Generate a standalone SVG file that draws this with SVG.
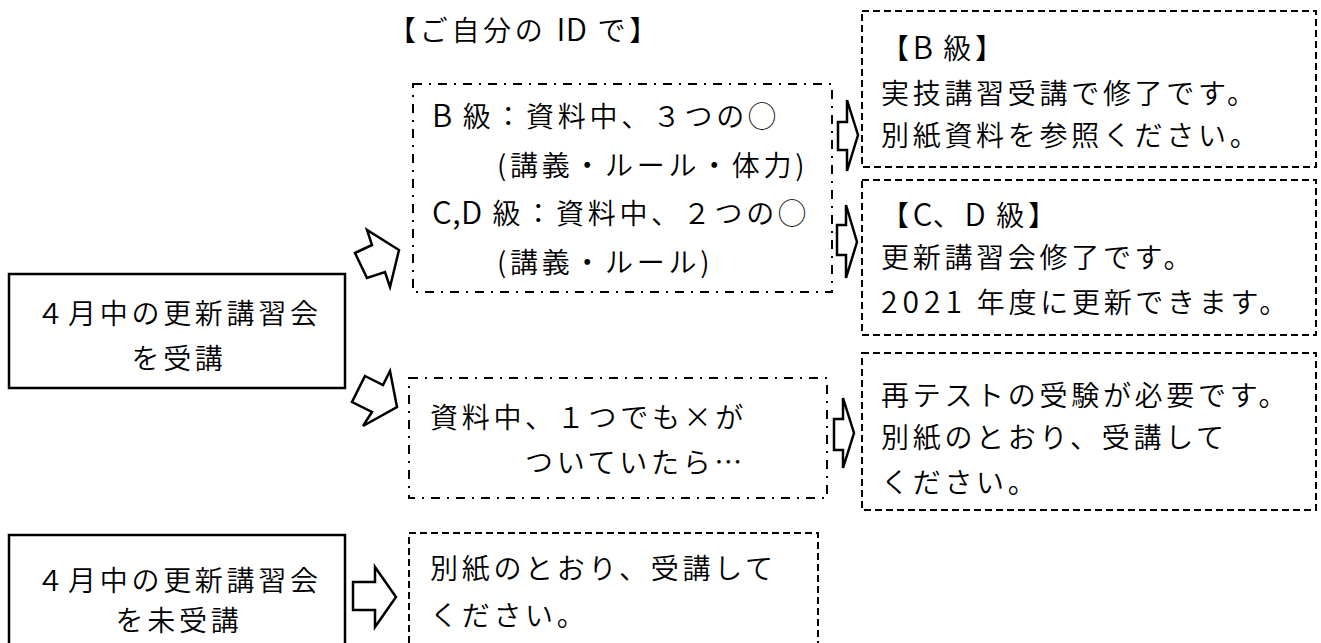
<svg xmlns="http://www.w3.org/2000/svg" width="1321" height="643" viewBox="0 0 1321 643">
<style>
text{font-family:"Noto Sans CJK JP","Liberation Sans",sans-serif;font-size:28px;font-weight:350;letter-spacing:3.7px;fill:#000}
.lat{font-size:31px;letter-spacing:0.5px}
.num{font-size:30px;letter-spacing:5px}
.solid{fill:#fff;stroke:#000;stroke-width:2.5}
.dash{fill:#fff;stroke:#000;stroke-width:2;stroke-dasharray:7 4}
.dd{fill:#fff;stroke:#000;stroke-width:2;stroke-dasharray:9 7 2 7}
.arr{fill:#fff;stroke:#000;stroke-width:2.5;stroke-linejoin:miter}
</style>
<rect width="1321" height="643" fill="#fff"/>
<g id="label-id"><text x="388" y="41">【ご自分の <tspan class="lat">ID</tspan> で】</text></g>
<g id="node-attended">
<rect class="solid" x="9" y="274" width="336" height="114"/>
<text x="179" y="324" text-anchor="middle">４月中の更新講習会</text>
<text x="179" y="369" text-anchor="middle">を受講</text>
</g>
<g id="node-not-attended">
<rect class="solid" x="9" y="535" width="336" height="120"/>
<text x="179" y="591" text-anchor="middle">４月中の更新講習会</text>
<text x="179" y="631" text-anchor="middle">を未受講</text>
</g>
<g id="node-pass">
<rect class="dd" x="413" y="84" width="419" height="208"/>
<text x="432" y="127"><tspan class="lat">B</tspan> 級：資料中、３つの◯</text>
<text x="497" y="176">(講義・ルール・体力)</text>
<text x="432" y="224"><tspan class="lat">C,D</tspan> 級：資料中、２つの◯</text>
<text x="497" y="273">(講義・ルール)</text>
</g>
<g id="node-fail">
<rect class="dd" x="409" y="378" width="418" height="120"/>
<text x="430" y="428">資料中、１つでも×が</text>
<text x="525" y="473">ついていたら…</text>
</g>
<g id="node-b">
<rect class="dash" x="862" y="11" width="454" height="156"/>
<text x="881" y="59">【<tspan class="lat">B</tspan> 級】</text>
<text x="881" y="104">実技講習受講で修了です。</text>
<text x="881" y="146">別紙資料を参照ください。</text>
</g>
<g id="node-cd">
<rect class="dash" x="862" y="180" width="454" height="155"/>
<text x="881" y="226">【<tspan class="lat">C</tspan>、<tspan class="lat">D</tspan> 級】</text>
<text x="881" y="268">更新講習会修了です。</text>
<text x="881" y="313"><tspan class="num">2021</tspan> 年度に更新できます。</text>
</g>
<g id="node-retest">
<rect class="dash" x="862" y="353" width="454" height="157"/>
<text x="881" y="406">再テストの受験が必要です。</text>
<text x="881" y="448">別紙のとおり、受講して</text>
<text x="881" y="493">ください。</text>
</g>
<g id="node-take">
<rect class="dash" x="409" y="533" width="409" height="130"/>
<text x="430" y="579">別紙のとおり、受講して</text>
<text x="430" y="626">ください。</text>
</g>
<g id="connectors">
<polygon class="arr" points="355,253 372,245 367,230 399,250 390,287 385,272 367,278"/>
<polygon class="arr" points="365,376 383,385 390,371 397,407 363,426 372,412 352,402"/>
<polygon class="arr" points="838,122 847,122 847,100 858,135 847,171 847,150 838,150"/>
<polygon class="arr" points="837,225 846,225 846,205 857,242 846,278 846,255 837,255"/>
<polygon class="arr" points="834,419 843,419 843,398 854,433 843,468 843,450 834,450"/>
<polygon class="arr" points="353,582 375,582 375,567 396,597 375,627 375,610 353,610"/>
</g>
</svg>
